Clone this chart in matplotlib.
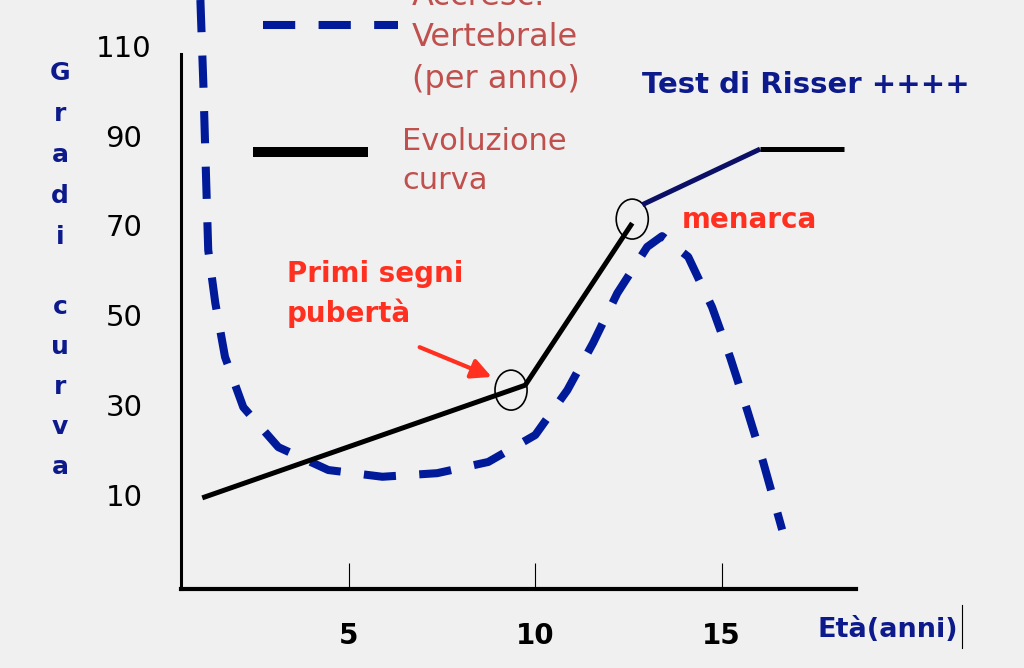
import matplotlib.pyplot as plt
from matplotlib.patches import Ellipse
from matplotlib.lines import Line2D

# età (anni) / gradi
eta_accr = [1.02, 1.10, 1.15, 1.23, 1.42, 1.68, 2.17, 3.11, 4.45, 5.90, 7.37, 8.74,
            10.0, 10.86, 11.55, 12.20, 13.0, 13.40, 14.10, 14.74, 15.23, 15.68, 16.11, 16.62]
accrescimento = [120.2, 101.3, 86.8, 64.5, 52.7, 40.7, 29.5, 20.6, 15.5, 14.0, 14.8, 17.3,
                 23.3, 33.3, 43.8, 54.9, 65.2, 67.6, 63.0, 51.8, 40.5, 28.9, 17.3, 2.2]

eta_curva = [1.07, 9.73, 12.6]
curva = [9.3, 34.4, 70.5]
eta_risser = [12.87, 16.03]
curva_risser = [74.6, 87.0]
eta_fine = [16.03, 18.28]
curva_fine = [87.0, 87.0]

cerchi_x = [9.35, 12.6]
cerchi_y = [33.3, 71.4]

xticks = [5, 10, 15]
yticks = [10, 30, 50, 70, 90, 110]

bg = '#f0f0f0'
blu = '#001a9a'
navy = '#0d1a8c'
bruno = '#c0504d'
rosso = '#ff3020'

fig = plt.figure(figsize=(10.24, 6.68), dpi=100, facecolor=bg)
ax = fig.add_axes([181/1024, 79/668, 675/1024, 589/668])
ax.set_facecolor(bg)
ax.set_xlim(0.5, 18.6)
ax.set_ylim(-11.0, 120.2)

ax.plot(eta_accr, accrescimento, color=blu, lw=5.8, dashes=(4, 2.9), dash_capstyle='butt')
ax.plot(eta_curva, curva, color='black', lw=3.6, solid_capstyle='butt')
ax.plot(eta_risser, curva_risser, color='#0b0f66', lw=3.6, solid_capstyle='butt')
ax.plot(eta_fine, curva_fine, color='black', lw=3.6, solid_capstyle='butt')
for cx, cy in zip(cerchi_x, cerchi_y):
    ax.add_patch(Ellipse((cx, cy), 0.86, 8.9, fill=False, ec='black', lw=1.2))

ax.annotate('', xy=(8.9, 36.0), xytext=(6.83, 43.1),
            arrowprops=dict(arrowstyle='-|>', color=rosso, lw=3, mutation_scale=30))

for s in ['top', 'right']:
    ax.spines[s].set_visible(False)
ax.spines['left'].set_linewidth(2.2)
ax.spines['left'].set_bounds(-11.0, 108.2)
ax.spines['bottom'].set_linewidth(3)

ax.set_xticks(xticks)
ax.set_xticklabels([str(t) for t in xticks], fontsize=20, fontweight='bold')
ax.tick_params(axis='x', direction='in', length=18.7, width=0.8, pad=24)
ax.set_yticks(yticks)
ax.set_yticklabels([str(t) for t in yticks], fontsize=21, ha='center')
ax.tick_params(axis='y', length=0, pad=41)

# etichetta verticale
for i, c in enumerate('Gradi'):
    fig.text(60/1024, 1 - (73 + 41*i)/668, c, color=navy, fontsize=18,
             fontweight='bold', ha='center', va='center')
for i, c in enumerate('curva'):
    fig.text(60/1024, 1 - (307 + 40*i)/668, c, color=navy, fontsize=18,
             fontweight='bold', ha='center', va='center')

fig.text(818/1024, 1 - 630/668, 'Età(anni)', color=navy, fontsize=19.5,
         fontweight='bold', va='center')
fig.add_artist(Line2D([962/1024, 962/1024], [1 - 605/668, 1 - 648/668], color='black', lw=0.8))

# legenda
fig.add_artist(Line2D([263/1024, 398/1024], [1 - 25/668, 1 - 25/668], color=blu,
                      lw=5.8, dashes=(4, 2.9), dash_capstyle='butt'))
fig.add_artist(Line2D([253/1024, 368/1024], [1 - 152/668, 1 - 152/668], color='black',
                      lw=7.2, solid_capstyle='butt'))
fig.text(412/1024, 1 - 38/668, 'Accresc.\nVertebrale\n(per anno)', color=bruno,
         fontsize=23, va='center', linespacing=1.42)
fig.text(402/1024, 1 - 161/668, 'Evoluzione\ncurva', color=bruno,
         fontsize=22, va='center', linespacing=1.45)

fig.text(642/1024, 1 - 85/668, 'Test di Risser ++++', color=navy, fontsize=21,
         fontweight='bold', va='center')
fig.text(682/1024, 1 - 220/668, 'menarca', color=rosso, fontsize=20,
         fontweight='bold', va='center')
fig.text(287/1024, 1 - 294/668, 'Primi segni\npubertà', color=rosso, fontsize=20,
         fontweight='bold', va='center', linespacing=1.46)

fig.savefig('out.png', dpi=100, facecolor=bg)
